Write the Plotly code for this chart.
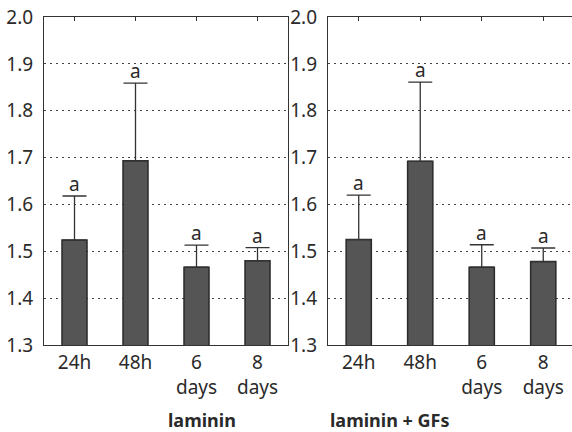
import plotly.graph_objects as go

categories = ["24h", "48h", "6<br>days", "8<br>days"]
laminin_means = [1.524, 1.693, 1.466, 1.480]
laminin_sd = [0.094, 0.166, 0.047, 0.028]
gf_means = [1.525, 1.692, 1.466, 1.478]
gf_sd = [0.095, 0.169, 0.048, 0.029]
sig_letters = ["a", "a", "a", "a"]
panel_titles = ["laminin", "laminin + GFs"]
y_ticks = [1.3, 1.4, 1.5, 1.6, 1.7, 1.8, 1.9, 2.0]

FONT = "Noto Sans"
TXT = "#2a2a2a"
LINE = "#333333"
FS = 19
xpos = list(range(len(categories)))

fig = go.Figure()

panels = [(laminin_means, laminin_sd, "x", "y"), (gf_means, gf_sd, "x2", "y2")]
for means, sd, xa, ya in panels:
    fig.add_trace(go.Bar(
        x=xpos, y=means, xaxis=xa, yaxis=ya, width=0.41,
        marker=dict(color="#555555", line=dict(color="#2a2a2a", width=1.5)),
        error_y=dict(type="data", array=sd, arrayminus=[0] * len(sd), symmetric=False,
                     color=LINE, thickness=1.3, width=12),
        showlegend=False, hoverinfo="skip",
    ))
    for i, (m, s) in enumerate(zip(means, sd)):
        fig.add_annotation(x=xpos[i], y=m + s, xref=xa, yref=ya, text=sig_letters[i],
                           showarrow=False, yanchor="bottom", yshift=-3,
                           font=dict(family=FONT, size=FS, color=TXT))

# invisible traces for top tick axes
fig.add_trace(go.Scatter(x=xpos, y=[None] * 4, xaxis="x3", yaxis="y", showlegend=False, hoverinfo="skip"))
fig.add_trace(go.Scatter(x=xpos, y=[None] * 4, xaxis="x4", yaxis="y2", showlegend=False, hoverinfo="skip"))

d1 = [0, 0.4604]
d2 = [0.5358, 1.0]
xcommon = dict(range=[-0.5, 3.5], tickvals=xpos, ticktext=categories, showgrid=False,
               zeroline=False, showline=True, linecolor=LINE, linewidth=1.2, ticks="",
               automargin=False, ticklabelstandoff=0,
               tickfont=dict(family=FONT, size=FS, color=TXT), fixedrange=True)
ycommon = dict(range=[1.3, 2.0], tickvals=y_ticks, ticktext=[f"{v:.1f}" for v in y_ticks],
               showgrid=True, gridcolor="#444444", griddash="2px,4px", gridwidth=1,
               zeroline=False, showline=True, linecolor=LINE, linewidth=1.2, ticks="",
               ticklabelstandoff=6, automargin=False,
               tickfont=dict(family=FONT, size=FS, color=TXT), fixedrange=True)
topcommon = dict(range=[-0.5, 3.5], tickvals=xpos, showticklabels=False, side="top",
                 ticks="inside", ticklen=4, tickcolor=LINE, tickwidth=1.2, showgrid=False,
                 automargin=False,
                 zeroline=False, showline=True, linecolor=LINE, linewidth=1.2, fixedrange=True)

fig.update_layout(
    width=574, height=432,
    margin=dict(l=44, r=0, t=17, b=87),
    paper_bgcolor="white", plot_bgcolor="white",
    xaxis=dict(domain=d1, anchor="y", **xcommon),
    xaxis2=dict(domain=d2, anchor="y2", **xcommon),
    xaxis3=dict(overlaying="x", anchor="y", **topcommon),
    xaxis4=dict(overlaying="x2", anchor="y2", **topcommon),
    yaxis=dict(anchor="x", mirror=True, **ycommon),
    yaxis2=dict(anchor="x2", mirror=False, **ycommon),
    bargap=0.5,
)

for title, dom in zip(panel_titles, [d1, d2]):
    fig.add_annotation(x=(dom[0] + dom[1]) / 2, y=-0.23, xref="paper", yref="paper",
                       text=f"<b>{title}</b>", showarrow=False, yanchor="middle",
                       font=dict(family=FONT, size=FS - 1, color=TXT))

fig.write_html("out.html", config={"displayModeBar": False},
               post_script="document.body.style.margin='0';document.body.style.overflow='hidden';")
